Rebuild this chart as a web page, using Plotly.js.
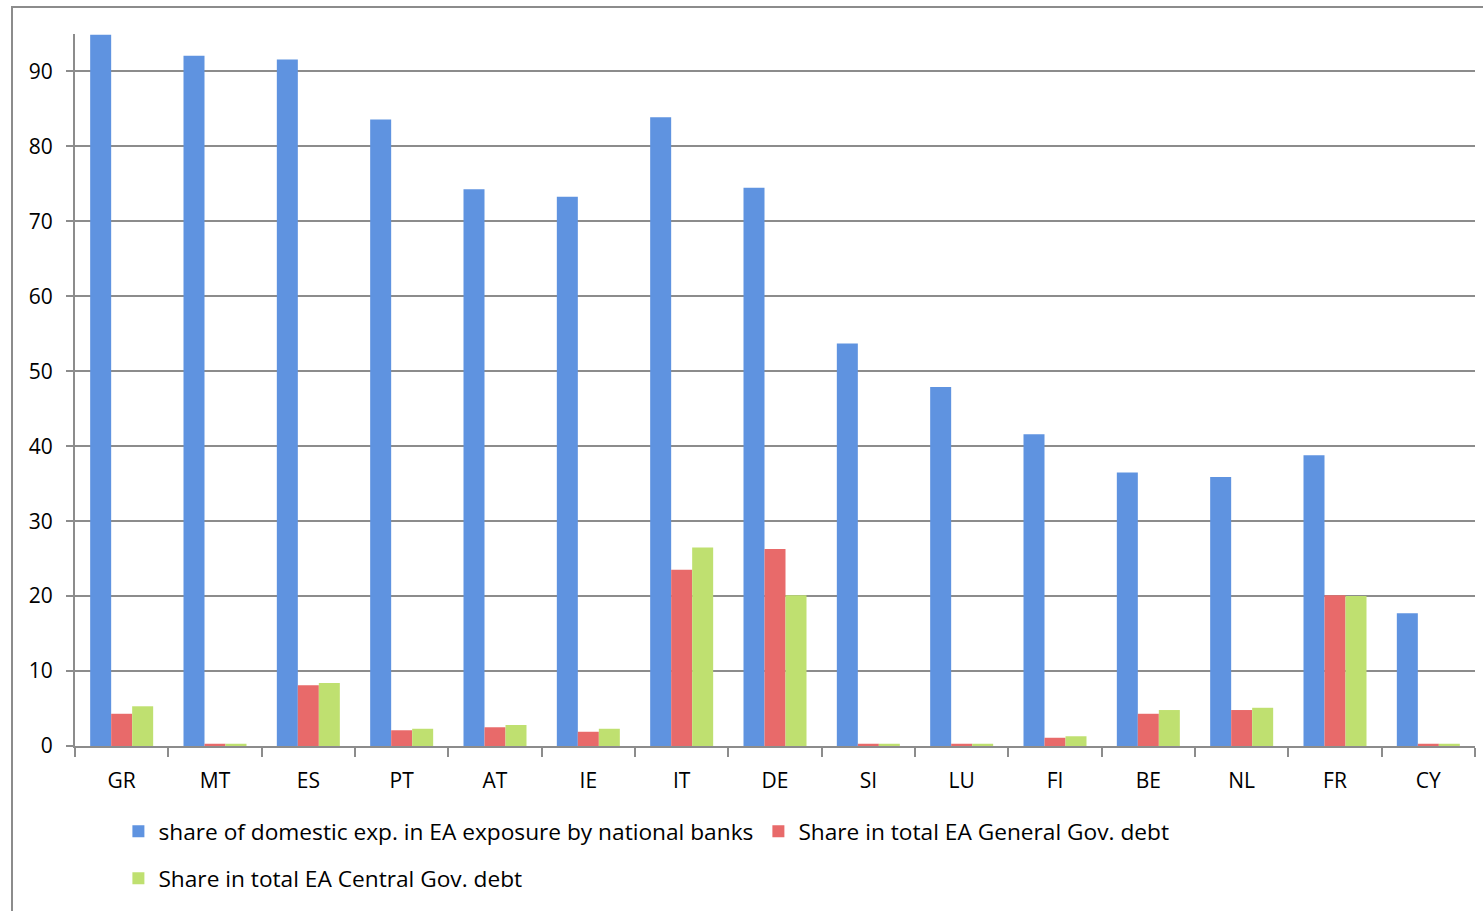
<!DOCTYPE html>
<html>
<head>
<meta charset="utf-8">
<script src="https://cdn.plot.ly/plotly-3.0.1.min.js"></script>
<style>
html,body{margin:0;padding:0;background:#fff;overflow:hidden;}
#chart{position:absolute;left:0;top:0;width:1483px;height:911px;}
#frame{position:absolute;left:11px;top:6px;width:1490px;height:920px;border:2px solid #8c8c8c;box-sizing:border-box;pointer-events:none;}
</style>
</head>
<body>
<div id="chart"></div>
<div id="frame"></div>
<script>
const categories = ["GR","MT","ES","PT","AT","IE","IT","DE","SI","LU","FI","BE","NL","FR","CY"];
const domesticShare = [94.9, 92.1, 91.6, 83.6, 74.3, 73.3, 83.9, 74.5, 53.7, 47.9, 41.6, 36.5, 35.9, 38.8, 17.7];
const generalGovShare = [4.3, 0.3, 8.1, 2.1, 2.5, 1.9, 23.5, 26.3, 0.3, 0.3, 1.1, 4.3, 4.8, 20.1, 0.3];
const centralGovShare = [5.3, 0.3, 8.4, 2.3, 2.8, 2.3, 26.5, 20.1, 0.3, 0.3, 1.3, 4.8, 5.1, 20.0, 0.3];
const seriesNames = ["share of domestic exp. in EA exposure by national banks", "Share in total EA General Gov. debt", "Share in total EA Central Gov. debt"];
const yTicks = [0,10,20,30,40,50,60,70,80,90];

const fontFamily = "Open Sans, DejaVu Sans, sans-serif";
const tickFont = {family: fontFamily, size: 21, color: "#000"};
const legendFont = {family: fontFamily, size: 22.7, color: "#000"};

const traces = [
  {type:"bar", name:seriesNames[0], x:categories, y:domesticShare, marker:{color:"#5f93e0"}, legend:"legend"},
  {type:"bar", name:seriesNames[1], x:categories, y:generalGovShare, marker:{color:"#e86a6a"}, legend:"legend"},
  {type:"bar", name:seriesNames[2], x:categories, y:centralGovShare, marker:{color:"#bfe070"}, legend:"legend2"}
];

const layout = {
  width:1483, height:911,
  margin:{l:75, r:8, t:34, b:165},
  paper_bgcolor:"rgba(0,0,0,0)", plot_bgcolor:"#fff",
  font: tickFont,
  barmode:"group", bargap:0.325, bargroupgap:0,
  showlegend:true,
  legend:{orientation:"h", x:0.031, y:-0.09, xanchor:"left", yanchor:"top", font:legendFont, traceorder:"normal", itemwidth:30},
  legend2:{orientation:"h", x:0.031, y:-0.156, xanchor:"left", yanchor:"top", font:legendFont, traceorder:"normal", itemwidth:30},
  xaxis:{
    type:"category", showline:true, linecolor:"#8c8c8c", linewidth:2,
    ticks:"outside", ticklen:9, tickcolor:"#8c8c8c", tickwidth:2, tickson:"boundaries",
    showgrid:false, tickfont:tickFont, range:[-0.5,14.5], fixedrange:true, ticklabelstandoff:15
  },
  yaxis:{
    range:[0,95], tickvals:yTicks, showline:true, linecolor:"#8c8c8c", linewidth:2,
    ticks:"outside", ticklen:7, tickcolor:"#8c8c8c", tickwidth:2,
    showgrid:true, gridcolor:"#8c8c8c", gridwidth:2, zeroline:false,
    tickfont:tickFont, ticklabelstandoff:9
  }
};

Plotly.newPlot("chart", traces, layout, {displayModeBar:false, staticPlot:true});
</script>
</body>
</html>
